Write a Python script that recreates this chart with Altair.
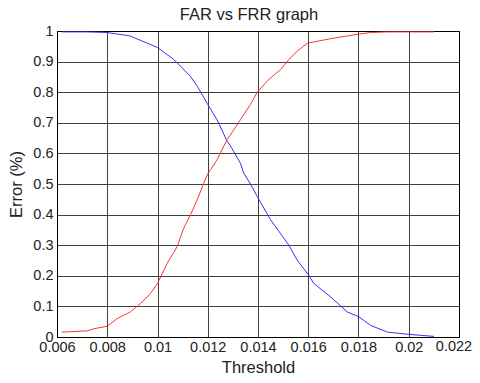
import altair as alt
import pandas as pd

frr_t = [0.0062, 0.0072, 0.0080, 0.0089, 0.0100, 0.01065, 0.01131, 0.01158, 0.0120, 0.01237,
         0.01277, 0.0129, 0.0133, 0.01343, 0.0137, 0.01397, 0.0145, 0.01523, 0.01556, 0.01602,
         0.01622, 0.01689, 0.01755, 0.01802, 0.01848, 0.01915, 0.01995, 0.0210]
frr_v = [0.997, 0.997, 0.995, 0.984, 0.946, 0.907, 0.852, 0.82, 0.76, 0.71,
         0.64, 0.625, 0.568, 0.536, 0.50, 0.459, 0.383, 0.30, 0.251, 0.202,
         0.175, 0.131, 0.082, 0.066, 0.038, 0.016, 0.009, 0.002]

far_t = [0.0062, 0.0072, 0.00746, 0.0080, 0.00839, 0.00892, 0.00932, 0.00972, 0.0100, 0.01038,
         0.01078, 0.01104, 0.01131, 0.01158, 0.01184, 0.0120, 0.01237, 0.01277, 0.0129, 0.0133,
         0.0137, 0.01397, 0.01443, 0.0149, 0.01523, 0.01556, 0.01596, 0.01689, 0.01795, 0.01848,
         0.01915, 0.0210]
far_v = [0.016, 0.02, 0.027, 0.035, 0.06, 0.082, 0.109, 0.142, 0.175, 0.24,
         0.295, 0.355, 0.399, 0.448, 0.503, 0.533, 0.579, 0.645, 0.66, 0.71,
         0.76, 0.80, 0.842, 0.874, 0.907, 0.934, 0.96, 0.975, 0.989, 0.995,
         0.997, 0.997]

x_ticks = [0.006, 0.008, 0.010, 0.012, 0.014, 0.016, 0.018, 0.020, 0.022]
y_ticks = [0, 0.1, 0.2, 0.3, 0.4, 0.5, 0.6, 0.7, 0.8, 0.9, 1.0]
last_x_label = ["0.022"]

df = pd.concat([
    pd.DataFrame({"t": frr_t, "v": frr_v, "s": "FRR", "o": range(len(frr_t))}),
    pd.DataFrame({"t": far_t, "v": far_v, "s": "FAR", "o": range(len(far_t))}),
])
last_df = pd.DataFrame({"t": [x_ticks[-1]], "v": [y_ticks[0]], "label": last_x_label})

font = "Liberation Sans"

x_scale = alt.Scale(domain=[0.006, 0.022], nice=False, zero=False)
y_scale = alt.Scale(domain=[0, 1], nice=False)

x_axis = alt.Axis(values=x_ticks, title="Threshold", grid=True,
                  labelExpr="datum.value >= 0.0219 ? '' : format(datum.value, '~g')",
                  ticks=False, labelPadding=3, titlePadding=6,
                  labelFlush=False, labelOverlap=False)
y_axis = alt.Axis(values=y_ticks, format="~g", title="Error (%)", grid=True,
                  ticks=False, labelPadding=4, titlePadding=8,
                  labelFlush=False, labelOverlap=False)

lines = alt.Chart(df).mark_line(strokeWidth=1, clip=True).encode(
    x=alt.X("t:Q", scale=x_scale, axis=x_axis),
    y=alt.Y("v:Q", scale=y_scale, axis=y_axis),
    color=alt.Color("s:N", scale=alt.Scale(domain=["FRR", "FAR"], range=["#3333ff", "#ff3333"]),
                    legend=None),
    order="o:Q",
)

last_label = alt.Chart(last_df).mark_text(
    font=font, fontSize=14.5, color="#222222", baseline="top", align="center",
    dx=-5, dy=3, clip=False,
).encode(
    x=alt.X("t:Q", scale=x_scale, axis=x_axis),
    y=alt.Y("v:Q", scale=y_scale, axis=y_axis),
    text="label:N",
)

chart = alt.layer(lines, last_label).properties(
    width=402, height=306,
    title=alt.TitleParams("FAR vs FRR graph", font=font, fontSize=16.5, fontWeight="normal",
                          color="#222222", dx=-9, offset=0),
    autosize="none",
    padding={"left": 49, "top": 23, "right": 13, "bottom": 46},
).configure_axis(
    gridColor="#000000", gridOpacity=0.75, gridWidth=1,
    domainColor="#000000", domainWidth=1,
    labelFont=font, labelFontSize=14.5, labelColor="#222222",
    titleFont=font, titleFontSize=16.5, titleFontWeight="normal", titleColor="#222222",
).configure_view(stroke="#000000", strokeWidth=1)

chart.save("out.html", embed_options={"renderer": "svg", "actions": False})
